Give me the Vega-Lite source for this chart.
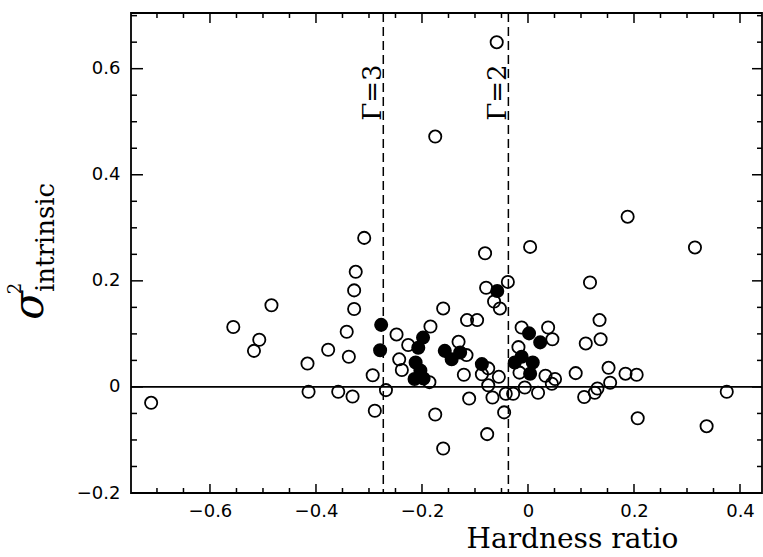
{
  "$schema": "https://vega.github.io/schema/vega-lite/v6.json",
  "width": 631,
  "height": 480,
  "autosize": "none",
  "padding": {"left": 131, "top": 13, "right": 1, "bottom": 64},
  "background": "white",
  "config": {
    "view": {"stroke": "black", "strokeWidth": 1.8, "fill": null},
    "axis": {
      "grid": false,
      "domain": false,
      "ticks": false,
      "labelColor": "black",
      "titleColor": "black",
      "labelFont": "DejaVu Sans",
      "labelFontSize": 18,
      "titleFont": "DejaVu Serif",
      "titleFontWeight": "normal",
      "labelFlush": false,
      "labelOverlap": false,
      "labelBound": false
    },
    "rule": {"color": "black", "strokeWidth": 1.5, "opacity": 1}
  },
  "datasets": {
    "pts": [
      {"hr": -0.711, "s2": -0.030, "type": "open"},
      {"hr": -0.556, "s2": 0.113, "type": "open"},
      {"hr": -0.507, "s2": 0.089, "type": "open"},
      {"hr": -0.517, "s2": 0.068, "type": "open"},
      {"hr": -0.484, "s2": 0.154, "type": "open"},
      {"hr": -0.416, "s2": 0.044, "type": "open"},
      {"hr": -0.414, "s2": -0.009, "type": "open"},
      {"hr": -0.377, "s2": 0.070, "type": "open"},
      {"hr": -0.358, "s2": -0.009, "type": "open"},
      {"hr": -0.331, "s2": -0.018, "type": "open"},
      {"hr": -0.342, "s2": 0.104, "type": "open"},
      {"hr": -0.338, "s2": 0.057, "type": "open"},
      {"hr": -0.328, "s2": 0.147, "type": "open"},
      {"hr": -0.328, "s2": 0.182, "type": "open"},
      {"hr": -0.325, "s2": 0.217, "type": "open"},
      {"hr": -0.309, "s2": 0.281, "type": "open"},
      {"hr": -0.293, "s2": 0.022, "type": "open"},
      {"hr": -0.289, "s2": -0.045, "type": "open"},
      {"hr": -0.268, "s2": -0.006, "type": "open"},
      {"hr": -0.248, "s2": 0.099, "type": "open"},
      {"hr": -0.243, "s2": 0.052, "type": "open"},
      {"hr": -0.238, "s2": 0.032, "type": "open"},
      {"hr": -0.226, "s2": 0.079, "type": "open"},
      {"hr": -0.184, "s2": 0.114, "type": "open"},
      {"hr": -0.186, "s2": 0.009, "type": "open"},
      {"hr": -0.175, "s2": 0.472, "type": "open"},
      {"hr": -0.175, "s2": -0.052, "type": "open"},
      {"hr": -0.160, "s2": 0.148, "type": "open"},
      {"hr": -0.160, "s2": -0.116, "type": "open"},
      {"hr": -0.131, "s2": 0.085, "type": "open"},
      {"hr": -0.116, "s2": 0.060, "type": "open"},
      {"hr": -0.121, "s2": 0.023, "type": "open"},
      {"hr": -0.115, "s2": 0.126, "type": "open"},
      {"hr": -0.096, "s2": 0.126, "type": "open"},
      {"hr": -0.111, "s2": -0.022, "type": "open"},
      {"hr": -0.075, "s2": 0.035, "type": "open"},
      {"hr": -0.087, "s2": 0.024, "type": "open"},
      {"hr": -0.055, "s2": 0.019, "type": "open"},
      {"hr": -0.075, "s2": 0.003, "type": "open"},
      {"hr": -0.067, "s2": -0.020, "type": "open"},
      {"hr": -0.042, "s2": -0.013, "type": "open"},
      {"hr": -0.028, "s2": -0.013, "type": "open"},
      {"hr": -0.077, "s2": -0.089, "type": "open"},
      {"hr": -0.045, "s2": -0.048, "type": "open"},
      {"hr": -0.081, "s2": 0.252, "type": "open"},
      {"hr": -0.079, "s2": 0.187, "type": "open"},
      {"hr": -0.064, "s2": 0.161, "type": "open"},
      {"hr": -0.053, "s2": 0.148, "type": "open"},
      {"hr": -0.059, "s2": 0.650, "type": "open"},
      {"hr": -0.038, "s2": 0.198, "type": "open"},
      {"hr": 0.004, "s2": 0.264, "type": "open"},
      {"hr": -0.018, "s2": 0.075, "type": "open"},
      {"hr": -0.016, "s2": 0.027, "type": "open"},
      {"hr": -0.006, "s2": -0.001, "type": "open"},
      {"hr": 0.019, "s2": -0.011, "type": "open"},
      {"hr": 0.033, "s2": 0.021, "type": "open"},
      {"hr": 0.051, "s2": 0.015, "type": "open"},
      {"hr": 0.045, "s2": 0.006, "type": "open"},
      {"hr": -0.012, "s2": 0.112, "type": "open"},
      {"hr": 0.038, "s2": 0.112, "type": "open"},
      {"hr": 0.046, "s2": 0.090, "type": "open"},
      {"hr": 0.090, "s2": 0.026, "type": "open"},
      {"hr": 0.106, "s2": -0.019, "type": "open"},
      {"hr": 0.126, "s2": -0.011, "type": "open"},
      {"hr": 0.131, "s2": -0.003, "type": "open"},
      {"hr": 0.152, "s2": 0.036, "type": "open"},
      {"hr": 0.155, "s2": 0.008, "type": "open"},
      {"hr": 0.184, "s2": 0.025, "type": "open"},
      {"hr": 0.205, "s2": 0.023, "type": "open"},
      {"hr": 0.207, "s2": -0.059, "type": "open"},
      {"hr": 0.109, "s2": 0.082, "type": "open"},
      {"hr": 0.117, "s2": 0.197, "type": "open"},
      {"hr": 0.135, "s2": 0.126, "type": "open"},
      {"hr": 0.137, "s2": 0.090, "type": "open"},
      {"hr": 0.188, "s2": 0.321, "type": "open"},
      {"hr": 0.315, "s2": 0.263, "type": "open"},
      {"hr": 0.337, "s2": -0.074, "type": "open"},
      {"hr": 0.375, "s2": -0.009, "type": "open"},
      {"hr": -0.277, "s2": 0.117, "type": "filled"},
      {"hr": -0.279, "s2": 0.069, "type": "filled"},
      {"hr": -0.207, "s2": 0.074, "type": "filled"},
      {"hr": -0.198, "s2": 0.093, "type": "filled"},
      {"hr": -0.212, "s2": 0.046, "type": "filled"},
      {"hr": -0.203, "s2": 0.031, "type": "filled"},
      {"hr": -0.214, "s2": 0.015, "type": "filled"},
      {"hr": -0.197, "s2": 0.016, "type": "filled"},
      {"hr": -0.157, "s2": 0.068, "type": "filled"},
      {"hr": -0.144, "s2": 0.052, "type": "filled"},
      {"hr": -0.128, "s2": 0.065, "type": "filled"},
      {"hr": -0.087, "s2": 0.043, "type": "filled"},
      {"hr": -0.058, "s2": 0.181, "type": "filled"},
      {"hr": -0.025, "s2": 0.046, "type": "filled"},
      {"hr": -0.012, "s2": 0.057, "type": "filled"},
      {"hr": 0.009, "s2": 0.046, "type": "filled"},
      {"hr": 0.004, "s2": 0.025, "type": "filled"},
      {"hr": 0.002, "s2": 0.101, "type": "filled"},
      {"hr": 0.023, "s2": 0.084, "type": "filled"}
    ],
    "zero": [{"s2": 0}],
    "gam": [
      {"label": "Γ=3", "hr": -0.273},
      {"label": "Γ=2", "hr": -0.037}
    ],
    "xmaj": [{"v": -0.6}, {"v": -0.4}, {"v": -0.2}, {"v": 0}, {"v": 0.2}, {"v": 0.4}],
    "xmin": [{"v": -0.7}, {"v": -0.65}, {"v": -0.55}, {"v": -0.5}, {"v": -0.45}, {"v": -0.35}, {"v": -0.3}, {"v": -0.25}, {"v": -0.15}, {"v": -0.1}, {"v": -0.05}, {"v": 0.05}, {"v": 0.1}, {"v": 0.15}, {"v": 0.25}, {"v": 0.3}, {"v": 0.35}],
    "ymaj": [{"v": 0}, {"v": 0.2}, {"v": 0.4}, {"v": 0.6}],
    "ymin": [{"v": -0.15}, {"v": -0.1}, {"v": -0.05}, {"v": 0.05}, {"v": 0.1}, {"v": 0.15}, {"v": 0.25}, {"v": 0.3}, {"v": 0.35}, {"v": 0.45}, {"v": 0.5}, {"v": 0.55}, {"v": 0.65}, {"v": 0.7}]
  },
  "layer": [
    {
      "data": {"name": "zero"},
      "mark": {"type": "rule", "stroke": "black", "strokeWidth": 1.6},
      "encoding": {
        "y": {"field": "s2", "type": "quantitative", "scale": {"domain": [-0.2, 0.705], "nice": false, "zero": false}, "axis": null}
      }
    },
    {
      "data": {"name": "gam"},
      "mark": {"type": "rule", "stroke": "black", "strokeWidth": 1.5, "strokeDash": [9, 5]},
      "encoding": {
        "x": {"field": "hr", "type": "quantitative", "scale": {"domain": [-0.749, 0.4415], "nice": false, "zero": false}, "axis": null}
      }
    },
    {
      "data": {"name": "gam"},
      "mark": {"type": "text", "angle": 270, "font": "DejaVu Serif", "fontSize": 26, "baseline": "alphabetic", "align": "center", "dy": -2, "color": "black"},
      "encoding": {
        "x": {"field": "hr", "type": "quantitative", "scale": {"domain": [-0.749, 0.4415], "nice": false, "zero": false}, "axis": null},
        "y": {"datum": 0.555, "type": "quantitative", "scale": {"domain": [-0.2, 0.705], "nice": false, "zero": false}, "axis": null},
        "text": {"field": "label"}
      }
    },
    {
      "data": {"name": "xmaj"},
      "mark": {"type": "rule", "stroke": "black", "strokeWidth": 1.5},
      "encoding": {
        "x": {"field": "v", "type": "quantitative", "scale": {"domain": [-0.749, 0.4415], "nice": false, "zero": false}, "axis": null},
        "y": {"datum": -0.2, "type": "quantitative", "scale": {"domain": [-0.2, 0.705], "nice": false, "zero": false}, "axis": null},
        "y2": {"datum": -0.183}
      }
    },
    {
      "data": {"name": "xmaj"},
      "mark": {"type": "rule", "stroke": "black", "strokeWidth": 1.5},
      "encoding": {
        "x": {"field": "v", "type": "quantitative", "scale": {"domain": [-0.749, 0.4415], "nice": false, "zero": false}, "axis": null},
        "y": {"datum": 0.705, "type": "quantitative", "scale": {"domain": [-0.2, 0.705], "nice": false, "zero": false}, "axis": null},
        "y2": {"datum": 0.686}
      }
    },
    {
      "data": {"name": "xmin"},
      "mark": {"type": "rule", "stroke": "black", "strokeWidth": 1.5},
      "encoding": {
        "x": {"field": "v", "type": "quantitative", "scale": {"domain": [-0.749, 0.4415], "nice": false, "zero": false}, "axis": null},
        "y": {"datum": -0.2, "type": "quantitative", "scale": {"domain": [-0.2, 0.705], "nice": false, "zero": false}, "axis": null},
        "y2": {"datum": -0.1906}
      }
    },
    {
      "data": {"name": "xmin"},
      "mark": {"type": "rule", "stroke": "black", "strokeWidth": 1.5},
      "encoding": {
        "x": {"field": "v", "type": "quantitative", "scale": {"domain": [-0.749, 0.4415], "nice": false, "zero": false}, "axis": null},
        "y": {"datum": 0.705, "type": "quantitative", "scale": {"domain": [-0.2, 0.705], "nice": false, "zero": false}, "axis": null},
        "y2": {"datum": 0.6956}
      }
    },
    {
      "data": {"name": "ymaj"},
      "mark": {"type": "rule", "stroke": "black", "strokeWidth": 1.5},
      "encoding": {
        "y": {"field": "v", "type": "quantitative", "scale": {"domain": [-0.2, 0.705], "nice": false, "zero": false}, "axis": null},
        "x": {"datum": -0.749, "type": "quantitative", "scale": {"domain": [-0.749, 0.4415], "nice": false, "zero": false}, "axis": null},
        "x2": {"datum": -0.7264}
      }
    },
    {
      "data": {"name": "ymaj"},
      "mark": {"type": "rule", "stroke": "black", "strokeWidth": 1.5},
      "encoding": {
        "y": {"field": "v", "type": "quantitative", "scale": {"domain": [-0.2, 0.705], "nice": false, "zero": false}, "axis": null},
        "x": {"datum": 0.4415, "type": "quantitative", "scale": {"domain": [-0.749, 0.4415], "nice": false, "zero": false}, "axis": null},
        "x2": {"datum": 0.4226}
      }
    },
    {
      "data": {"name": "ymin"},
      "mark": {"type": "rule", "stroke": "black", "strokeWidth": 1.5},
      "encoding": {
        "y": {"field": "v", "type": "quantitative", "scale": {"domain": [-0.2, 0.705], "nice": false, "zero": false}, "axis": null},
        "x": {"datum": -0.749, "type": "quantitative", "scale": {"domain": [-0.749, 0.4415], "nice": false, "zero": false}, "axis": null},
        "x2": {"datum": -0.7377}
      }
    },
    {
      "data": {"name": "ymin"},
      "mark": {"type": "rule", "stroke": "black", "strokeWidth": 1.5},
      "encoding": {
        "y": {"field": "v", "type": "quantitative", "scale": {"domain": [-0.2, 0.705], "nice": false, "zero": false}, "axis": null},
        "x": {"datum": 0.4415, "type": "quantitative", "scale": {"domain": [-0.749, 0.4415], "nice": false, "zero": false}, "axis": null},
        "x2": {"datum": 0.4321}
      }
    },
    {
      "data": {"name": "pts"},
      "mark": {"type": "point", "shape": "circle", "filled": true, "size": 150, "stroke": "black", "strokeWidth": 1.8, "opacity": 1},
      "encoding": {
        "x": {"field": "hr", "type": "quantitative", "scale": {"domain": [-0.749, 0.4415], "nice": false, "zero": false},
          "axis": {"orient": "bottom", "values": [-0.6, -0.4, -0.2, 0, 0.2, 0.4], "format": ".1~f", "labelPadding": 9,
            "title": "Hardness ratio", "titleFontSize": 28, "titleX": 441, "titleY": 54, "titleBaseline": "alphabetic", "titleAlign": "center"}},
        "y": {"field": "s2", "type": "quantitative", "scale": {"domain": [-0.2, 0.705], "nice": false, "zero": false},
          "axis": {"orient": "left", "values": [-0.2, 0, 0.2, 0.4, 0.6], "format": ".1~f", "labelPadding": 11,
            "title": "σ", "titleFontSize": 42, "titleFontStyle": "italic", "titleAngle": 270, "titleX": -89, "titleY": 292, "titleBaseline": "alphabetic", "titleAlign": "center"}},
        "fill": {"field": "type", "type": "nominal", "scale": {"domain": ["open", "filled"], "range": ["transparent", "black"]}, "legend": null}
      }
    },
    {
      "data": {"name": "pts"},
      "mark": {"type": "point", "opacity": 0},
      "encoding": {
        "y": {"field": "s2", "type": "quantitative", "scale": {"domain": [-0.2, 0.705], "nice": false, "zero": false},
          "axis": {"orient": "left", "values": [], "labels": false,
            "title": "2", "titleFontSize": 18, "titleAngle": 270, "titleX": -111, "titleY": 275, "titleBaseline": "alphabetic", "titleAlign": "center"}}
      }
    },
    {
      "data": {"name": "pts"},
      "mark": {"type": "point", "opacity": 0},
      "encoding": {
        "y": {"field": "s2", "type": "quantitative", "scale": {"domain": [-0.2, 0.705], "nice": false, "zero": false},
          "axis": {"orient": "left", "values": [], "labels": false,
            "title": "intrinsic", "titleFontSize": 26, "titleAngle": 270, "titleX": -78, "titleY": 224, "titleBaseline": "alphabetic", "titleAlign": "center"}}
      }
    }
  ],
  "resolve": {"axis": {"x": "independent", "y": "independent"}}
}
